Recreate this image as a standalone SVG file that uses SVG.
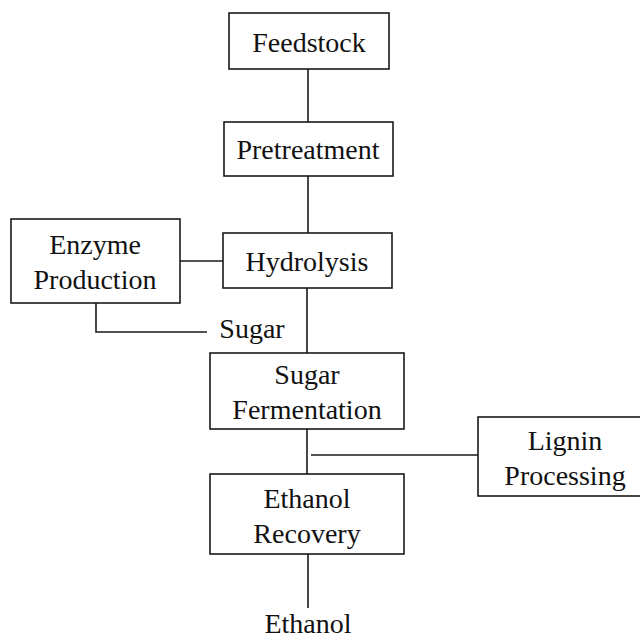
<svg xmlns="http://www.w3.org/2000/svg" width="640" height="642" viewBox="0 0 640 642">
<style>
.box{fill:#fff;stroke:#1a1a1a;stroke-width:1.6}
.ln{fill:none;stroke:#1a1a1a;stroke-width:1.6}
text{font-family:"Liberation Serif","Times New Roman",serif;font-size:28px;fill:#111;text-anchor:middle}
</style>
<rect width="640" height="642" fill="#fff"/>
<g id="connectors">
<line class="ln" x1="308" y1="69" x2="308" y2="122"/>
<line class="ln" x1="308" y1="176" x2="308" y2="233"/>
<line class="ln" x1="180" y1="261" x2="223" y2="261"/>
<polyline class="ln" points="96,303 96,332 207,332"/>
<line class="ln" x1="307" y1="288" x2="307" y2="353"/>
<line class="ln" x1="307" y1="429" x2="307" y2="474"/>
<line class="ln" x1="311" y1="455" x2="478" y2="455"/>
<line class="ln" x1="308" y1="554" x2="308" y2="608"/>
</g>
<g id="feedstock"><rect class="box" x="229" y="13" width="160" height="56"/><text x="309" y="52">Feedstock</text></g>
<g id="pretreatment"><rect class="box" x="224" y="122" width="169" height="54"/><text x="308" y="159">Pretreatment</text></g>
<g id="enzyme"><rect class="box" x="11" y="219" width="169" height="84"/><text x="95" y="254">Enzyme</text><text x="95" y="289">Production</text></g>
<g id="hydrolysis"><rect class="box" x="223" y="233" width="169" height="55"/><text x="307" y="271">Hydrolysis</text></g>
<g id="sugar-label"><text x="252" y="338">Sugar</text></g>
<g id="fermentation"><rect class="box" x="210" y="353" width="194" height="76"/><text x="307" y="384">Sugar</text><text x="307" y="419">Fermentation</text></g>
<g id="lignin"><rect class="box" x="478" y="417" width="170" height="79"/><text x="565" y="450">Lignin</text><text x="565" y="485">Processing</text></g>
<g id="recovery"><rect class="box" x="210" y="474" width="194" height="80"/><text x="307" y="508">Ethanol</text><text x="307" y="543">Recovery</text></g>
<g id="ethanol"><text x="308" y="633">Ethanol</text></g>
</svg>
